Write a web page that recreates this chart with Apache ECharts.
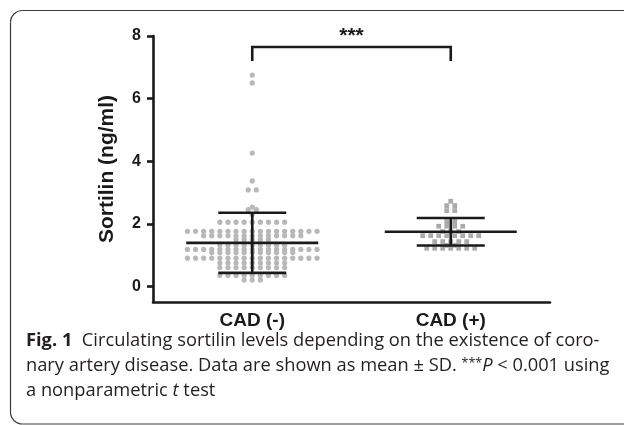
<!DOCTYPE html>
<html><head><meta charset="utf-8">
<script src="https://cdn.jsdelivr.net/npm/echarts@6/dist/echarts.min.js"></script>
<style>html,body{margin:0;padding:0;background:#fff;} #c{width:624px;height:425px;}</style>
</head><body><div id="c"></div>
<script>
const categories = ['CAD (-)', 'CAD (+)'];
const yTicks = [0, 2, 4, 6, 8];
// CAD (-) individual values (ng/ml) (rows of similar values)
const cadNeg = [
  6.75, 6.5, 4.26, 3.37, 3.08, 3.08, 2.53, 2.45, 2.45, 2.3,
  2.05, 2.05, 2.05, 2.05, 2.05, 2.05, 2.05, 2.05, 2.05,
  1.76, 1.76, 1.76, 1.76, 1.76, 1.76, 1.76, 1.76, 1.76, 1.76, 1.76, 1.76, 1.76, 1.76, 1.76, 1.76, 1.76,
  1.62, 1.62, 1.62, 1.62, 1.62, 1.62, 1.62, 1.62, 1.62, 1.62, 1.62, 1.62, 1.62,
  1.5, 1.5, 1.5, 1.5, 1.5,
  1.31, 1.31, 1.31, 1.31, 1.31, 1.31, 1.31, 1.31, 1.31,
  1.18, 1.18, 1.18, 1.18, 1.18, 1.18, 1.18, 1.18, 1.18, 1.18, 1.18, 1.18, 1.18, 1.18, 1.18, 1.18, 1.18,
  1.08, 1.08, 1.08, 1.08, 1.08, 1.08, 1.08, 1.08, 1.08, 1.08, 1.08,
  0.9, 0.9, 0.9, 0.9, 0.9, 0.9, 0.9, 0.9, 0.9, 0.9, 0.9, 0.9, 0.9, 0.9, 0.9, 0.9, 0.9,
  0.75, 0.75, 0.75, 0.75, 0.75, 0.75, 0.75, 0.75, 0.75,
  0.6, 0.6, 0.6, 0.6, 0.6, 0.6, 0.6, 0.6, 0.6,
  0.35, 0.35, 0.35, 0.35, 0.35, 0.35, 0.35, 0.35, 0.35,
  0.2, 0.2, 0.2
];
// CAD (+) individual values (ng/ml)
const cadPos = [
  2.72, 2.58, 2.58, 2.42, 2.42, 2.07, 2.07,
  1.92, 1.92, 1.92, 1.92,
  1.75, 1.75, 1.75,
  1.62, 1.62, 1.62, 1.62, 1.62, 1.62, 1.62, 1.62,
  1.43, 1.43, 1.43, 1.43, 1.43,
  1.31, 1.31,
  1.22, 1.22, 1.22, 1.22, 1.22, 1.22, 1.22
];
const groupMean = [1.39, 1.745];
const groupSD = [0.96, 0.44];

const FONT = '"Liberation Sans", Arial, Helvetica, sans-serif';
const CAP_FONT = '"Open Sans", Lato, sans-serif';
const CAP_SIZE = 18.3;
const INK = '#1a1a1a';

// arrange points of equal value side by side, centred on the category
function swarm(values, catIdx) {
  const rows = new Map();
  values.forEach(v => { if (!rows.has(v)) rows.set(v, []); rows.get(v).push(v); });
  const out = [];
  rows.forEach(list => {
    const n = list.length;
    list.forEach((v, i) => out.push([catIdx, v, i - (n - 1) / 2]));
  });
  return out;
}

const chart = echarts.init(document.getElementById('c'), null, {renderer: 'canvas'});
const lineStyle = {stroke: INK, lineWidth: 2.6};
const frameStyle = {fill: null, stroke: '#3a3a3a', lineWidth: 1.2};

chart.setOption({
  animation: false,
  backgroundColor: '#fff',
  grid: {left: 153, right: 74, top: 36, bottom: 123, containLabel: false},
  xAxis: {
    type: 'category', data: categories, boundaryGap: true,
    axisLine: {onZero: false, lineStyle: {color: INK, width: 2.6}},
    axisTick: {alignWithLabel: true, length: 6, lineStyle: {color: INK, width: 2.6}},
    axisLabel: {fontSize: 19, fontWeight: 'bold', color: INK, margin: 9, fontFamily: FONT},
    splitLine: {show: false}
  },
  yAxis: {
    type: 'value', min: -0.5, max: 8,
    axisLine: {show: true, lineStyle: {color: INK, width: 2.6}},
    axisTick: {show: true, length: 6, customValues: yTicks, lineStyle: {color: INK, width: 2.6}},
    axisLabel: {customValues: yTicks, fontSize: 16, fontWeight: 'bold', color: INK, margin: 12, fontFamily: FONT},
    splitLine: {show: false},
    name: 'Sortilin (ng/ml)', nameLocation: 'middle', nameGap: 35,
    nameTextStyle: {fontSize: 21, fontWeight: 'bold', color: INK, fontFamily: FONT}
  },
  series: [
    {
      type: 'custom', name: 'CAD (-)', z: 2,
      data: swarm(cadNeg, 0), encode: {x: 0, y: 1},
      renderItem: (params, api) => {
        const p = api.coord([api.value(0), api.value(1)]);
        return {type: 'circle', shape: {cx: p[0] + api.value(2) * 8.1, cy: p[1], r: 2.6}, style: {fill: '#b8b8b8'}};
      }
    },
    {
      type: 'custom', name: 'CAD (+)', z: 2,
      data: swarm(cadPos, 1), encode: {x: 0, y: 1},
      renderItem: (params, api) => {
        const p = api.coord([api.value(0), api.value(1)]);
        const x = p[0] + api.value(2) * 8;
        return {type: 'rect', shape: {x: x - 2.4, y: p[1] - 2.4, width: 4.8, height: 4.8}, style: {fill: '#ababab'}};
      }
    },
    {
      type: 'custom', name: 'mean ± SD', z: 5,
      data: groupMean.map((m, i) => [i, m, groupSD[i]]), encode: {x: 0, y: 1},
      renderItem: (params, api) => {
        const c = api.value(0), m = api.value(1), s = api.value(2);
        const pm = api.coord([c, m]), pu = api.coord([c, m + s]), pl = api.coord([c, m - s]);
        return {type: 'group', children: [
          {type: 'line', shape: {x1: pm[0] - 66, y1: pm[1], x2: pm[0] + 66, y2: pm[1]}, style: lineStyle},
          {type: 'line', shape: {x1: pu[0], y1: pu[1], x2: pl[0], y2: pl[1]}, style: lineStyle},
          {type: 'line', shape: {x1: pu[0] - 34, y1: pu[1], x2: pu[0] + 34, y2: pu[1]}, style: lineStyle},
          {type: 'line', shape: {x1: pl[0] - 34, y1: pl[1], x2: pl[0] + 34, y2: pl[1]}, style: lineStyle}
        ]};
      }
    },
    {
      type: 'custom', name: 'significance', z: 5,
      data: [[0, 7.65]], encode: {x: 0, y: 1},
      renderItem: (params, api) => {
        const a = api.coord([0, 7.65]), b = api.coord([1, 7.65]);
        const d = api.coord([0, 7.2]), t = api.coord([0, 7.98]);
        return {type: 'group', children: [
          {type: 'polyline', shape: {points: [[a[0], d[1]], [a[0], a[1]], [b[0], a[1]], [b[0], d[1]]]},
           style: {stroke: INK, lineWidth: 2.6, fill: null}},
          {type: 'text', style: {text: '***', x: (a[0] + b[0]) / 2, y: t[1], align: 'center', verticalAlign: 'middle',
            font: 'bold 21px ' + FONT, fill: INK}}
        ]};
      }
    }
  ],
  graphic: [
    {type: 'polyline', silent: true, shape: {points: [[700, 10.5], [22.5, 10.5]]}, style: frameStyle},
    {type: 'arc', silent: true, shape: {cx: 22.5, cy: 22.5, r: 12, startAngle: Math.PI, endAngle: Math.PI * 1.5, clockwise: true}, style: frameStyle},
    {type: 'polyline', silent: true, shape: {points: [[10.5, 22.5], [10.5, 412]]}, style: frameStyle},
    {type: 'arc', silent: true, shape: {cx: 22.5, cy: 412, r: 12, startAngle: Math.PI * 0.5, endAngle: Math.PI, clockwise: true}, style: frameStyle},
    {type: 'polyline', silent: true, shape: {points: [[22.5, 424], [700, 424]]}, style: frameStyle},
    {type: 'text', left: 26, top: 332, style: {
      text: '{b|Fig. 1}  Circulating sortilin levels depending on the existence of coro-',
      font: CAP_SIZE + 'px ' + CAP_FONT, fill: '#231f20',
      rich: {b: {fontWeight: 'bold', fontSize: CAP_SIZE, fontFamily: CAP_FONT, fill: '#231f20'}}
    }},
    {type: 'text', left: 26, top: 357, style: {
      text: 'nary artery disease. Data are shown as mean ± SD. {s|***}{i|P} < 0.001 using',
      font: CAP_SIZE + 'px ' + CAP_FONT, fill: '#231f20',
      rich: {
        i: {fontStyle: 'italic', fontSize: CAP_SIZE, fontFamily: CAP_FONT, fill: '#231f20'},
        s: {fontSize: 12.5, fontFamily: CAP_FONT, fill: '#231f20', verticalAlign: 'top'}
      }
    }},
    {type: 'text', left: 26, top: 382, style: {
      text: 'a nonparametric {i|t} test',
      font: CAP_SIZE + 'px ' + CAP_FONT, fill: '#231f20',
      rich: {i: {fontStyle: 'italic', fontSize: CAP_SIZE, fontFamily: CAP_FONT, fill: '#231f20'}}
    }}
  ]
});
</script></body></html>
